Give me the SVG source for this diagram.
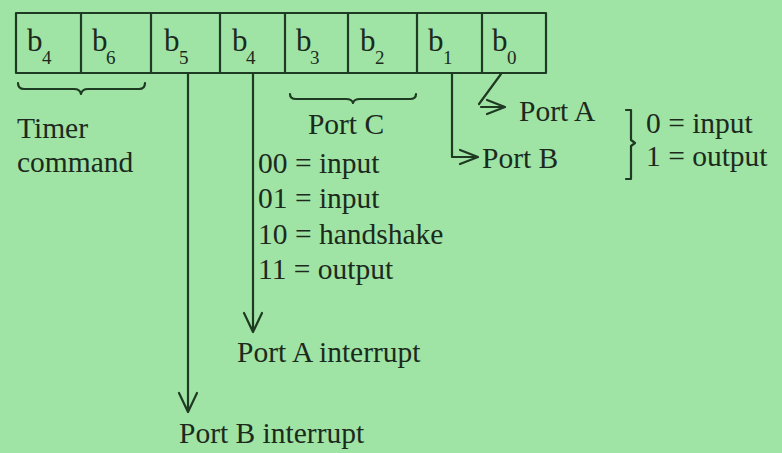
<svg xmlns="http://www.w3.org/2000/svg" width="782" height="453" viewBox="0 0 782 453">
<style>
.ln{fill:none;stroke:#1f3a22;stroke-width:2.2;stroke-linecap:round;stroke-linejoin:round}
text{font-family:'Liberation Serif','DejaVu Serif','Times New Roman',serif;fill:#1c2a1e}
.t{font-size:29.5px}
.b{font-size:31px}
.s{font-size:19px}
</style>
<rect x="0" y="0" width="782" height="453" fill="#9fe4a4"/>
<g id="register">
<rect class="ln" x="16" y="13" width="530" height="60" stroke-width="2.6"/>
<path class="ln" d="M81,13V73M151,13V73M220,13V73M285,13V73M348,13V73M417,13V73M482,13V73"/>
<text class="b" x="27" y="51">b</text><text class="s" x="42" y="64">4</text>
<text class="b" x="92" y="51">b</text><text class="s" x="106" y="64">6</text>
<text class="b" x="164" y="51">b</text><text class="s" x="179" y="64">5</text>
<text class="b" x="232" y="51">b</text><text class="s" x="246" y="64">4</text>
<text class="b" x="296" y="51">b</text><text class="s" x="310" y="64">3</text>
<text class="b" x="360" y="51">b</text><text class="s" x="375" y="64">2</text>
<text class="b" x="428" y="51">b</text><text class="s" x="443" y="64">1</text>
<text class="b" x="492" y="51">b</text><text class="s" x="507" y="64">0</text>
</g>
<g id="timer">
<path class="ln" d="M18,83 Q18,89 24,89 L74,89 Q80,89 81,94 Q82,89 88,89 L139,89 Q145,89 145,83"/>
<text class="t" x="17" y="138">Timer</text>
<text class="t" x="17" y="172">command</text>
</g>
<g id="portc">
<path class="ln" d="M290,94 Q290,99 296,99 L346,99 Q352,99 353,103 Q354,99 360,99 L410,99 Q416,99 416,94"/>
<text class="t" x="346" y="134" text-anchor="middle">Port C</text>
<text class="t" x="258" y="173">00 = input</text>
<text class="t" x="258" y="208">01 = input</text>
<text class="t" x="258" y="244">10 = handshake</text>
<text class="t" x="258" y="279">11 = output</text>
</g>
<g id="porta-int">
<text class="t" x="237" y="362">Port A interrupt</text>
</g>
<g id="portb-int">
<text class="t" x="179" y="443">Port B interrupt</text>
</g>
<g id="porta">
<text class="t" x="519" y="121">Port A</text>
</g>
<g id="portb">
<text class="t" x="482" y="168">Port B</text>
</g>
<g id="mode">
<path class="ln" d="M626,110 L631,110 L631,140 L635,143 L631,146 L631,179 L626,179"/>
<text class="t" x="646" y="133">0 = input</text>
<text class="t" x="646" y="166">1 = output</text>
</g>
<g id="connectors">
<path class="ln" d="M188,73 V411 M179,393 L188,412 L197,393"/>
<path class="ln" d="M253,73 V331 M244,313 L253,332 L262,313"/>
<path class="ln" d="M452,73 V157 H478 M460,150 L478,157 L460,164"/>
<path class="ln" d="M501,74 L479,104 M481,107 H505 M487,100 L505,107 L487,114"/>
</g>
</svg>
